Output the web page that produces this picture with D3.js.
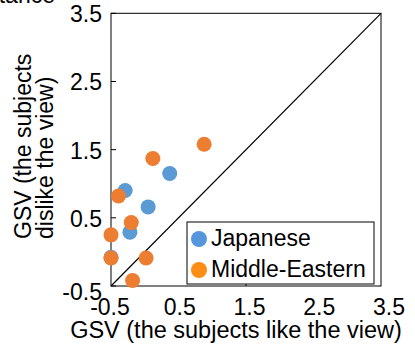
<!DOCTYPE html>
<html><head><meta charset="utf-8">
<script src="https://cdn.jsdelivr.net/npm/d3@7"></script>
<style>body{margin:0;background:#fff}svg{display:block;font-family:"Liberation Sans",Arial,sans-serif}</style>
</head><body>
<svg id="c" width="415" height="349"></svg>
<script>
const ticks = [-0.5, 0.5, 1.5, 2.5, 3.5];
const tickLabels = ["-0.5", "0.5", "1.5", "2.5", "3.5"];
const seriesNames = ["Japanese", "Middle-Eastern"];
const japaneseX = [0.37, -0.29, 0.05, -0.22, -0.5];
const japaneseY = [1.15, 0.90, 0.66, 0.29, -0.08];
const middleEasternX = [0.88, 0.12, -0.39, -0.20, -0.5, -0.5, 0.02, -0.18];
const middleEasternY = [1.58, 1.37, 0.82, 0.43, 0.25, -0.09, -0.09, -0.42];
const xTitle = "GSV (the subjects like the view)";
const yTitleLines = ["GSV (the subjects", "dislike the view)"];

const svg = d3.select("#c");
const L = 111, R = 381, T = 13.3, B = 286;
const x = d3.scaleLinear().domain([-0.5, 3.5]).range([L, R]);
const y = d3.scaleLinear().domain([-0.5, 3.5]).range([B, T]);
const xLab = d3.scaleLinear().domain([-0.5, 3.5]).range([110, 389]);
const FS = 23;

// clipped title fragment at top-left
svg.append("text").attr("x", 55).attr("y", 3).attr("text-anchor", "end")
  .attr("font-size", FS).text("Importance");

// frame
svg.append("rect").attr("x", L).attr("y", T).attr("width", R - L).attr("height", B - T)
  .attr("fill", "none").attr("stroke", "#000").attr("stroke-width", 1);

// y ticks (inward)
svg.append("g").selectAll("line").data(ticks).join("line")
  .attr("x1", L).attr("x2", L + 5).attr("y1", d => y(d)).attr("y2", d => y(d))
  .attr("stroke", "#000");
// x ticks (inward)
svg.append("g").selectAll("line").data([1.5]).join("line")
  .attr("x1", d => x(d)).attr("x2", d => x(d)).attr("y1", B).attr("y2", B - 5)
  .attr("stroke", "#000");

// y tick labels
svg.append("g").selectAll("text").data(ticks).join("text")
  .attr("x", 102).attr("y", (d, i) => y(d) + (i === 0 ? 14 : 9))
  .attr("text-anchor", "end").attr("font-size", FS)
  .text((d, i) => tickLabels[i]);
// x tick labels
svg.append("g").selectAll("text").data(ticks).join("text")
  .attr("x", d => xLab(d)).attr("y", 315)
  .attr("text-anchor", "middle").attr("font-size", FS)
  .text((d, i) => tickLabels[i]);

// axis titles
svg.append("text").attr("x", 236).attr("y", 338).attr("text-anchor", "middle")
  .attr("font-size", 23.5).text(xTitle);
const yt = svg.append("text").attr("transform", "translate(0,239) rotate(-90)")
  .attr("font-size", FS).attr("text-anchor", "start");
yTitleLines.forEach((t, i) => yt.append("tspan").attr("x", 0).attr("y", 31 + i * 22).text(t));

// diagonal
svg.append("line").attr("x1", x(-0.5)).attr("y1", y(-0.5)).attr("x2", x(3.5)).attr("y2", y(3.5))
  .attr("stroke", "#000").attr("stroke-width", 1.2);

// points
const jp = japaneseX.map((v, i) => [v, japaneseY[i]]);
const me = middleEasternX.map((v, i) => [v, middleEasternY[i]]);
svg.append("g").selectAll("circle").data(jp).join("circle")
  .attr("cx", d => x(d[0])).attr("cy", d => y(d[1])).attr("r", 7.5).attr("fill", "#5b9bd5");
svg.append("g").selectAll("circle").data(me).join("circle")
  .attr("cx", d => x(d[0])).attr("cy", d => y(d[1])).attr("r", 7.5).attr("fill", "#ed7d31");

// legend
const lg = svg.append("g");
lg.append("rect").attr("x", 187).attr("y", 222).attr("width", 187).attr("height", 62)
  .attr("fill", "#fff").attr("stroke", "#000");
const legColors = ["#5596dc", "#fd8d14"];
seriesNames.forEach((n, i) => {
  lg.append("circle").attr("cx", 199).attr("cy", 239 + i * 31).attr("r", 8).attr("fill", legColors[i]);
  lg.append("text").attr("x", 211).attr("y", 246 + i * 31).attr("font-size", FS).text(n);
});
</script>
</body></html>
